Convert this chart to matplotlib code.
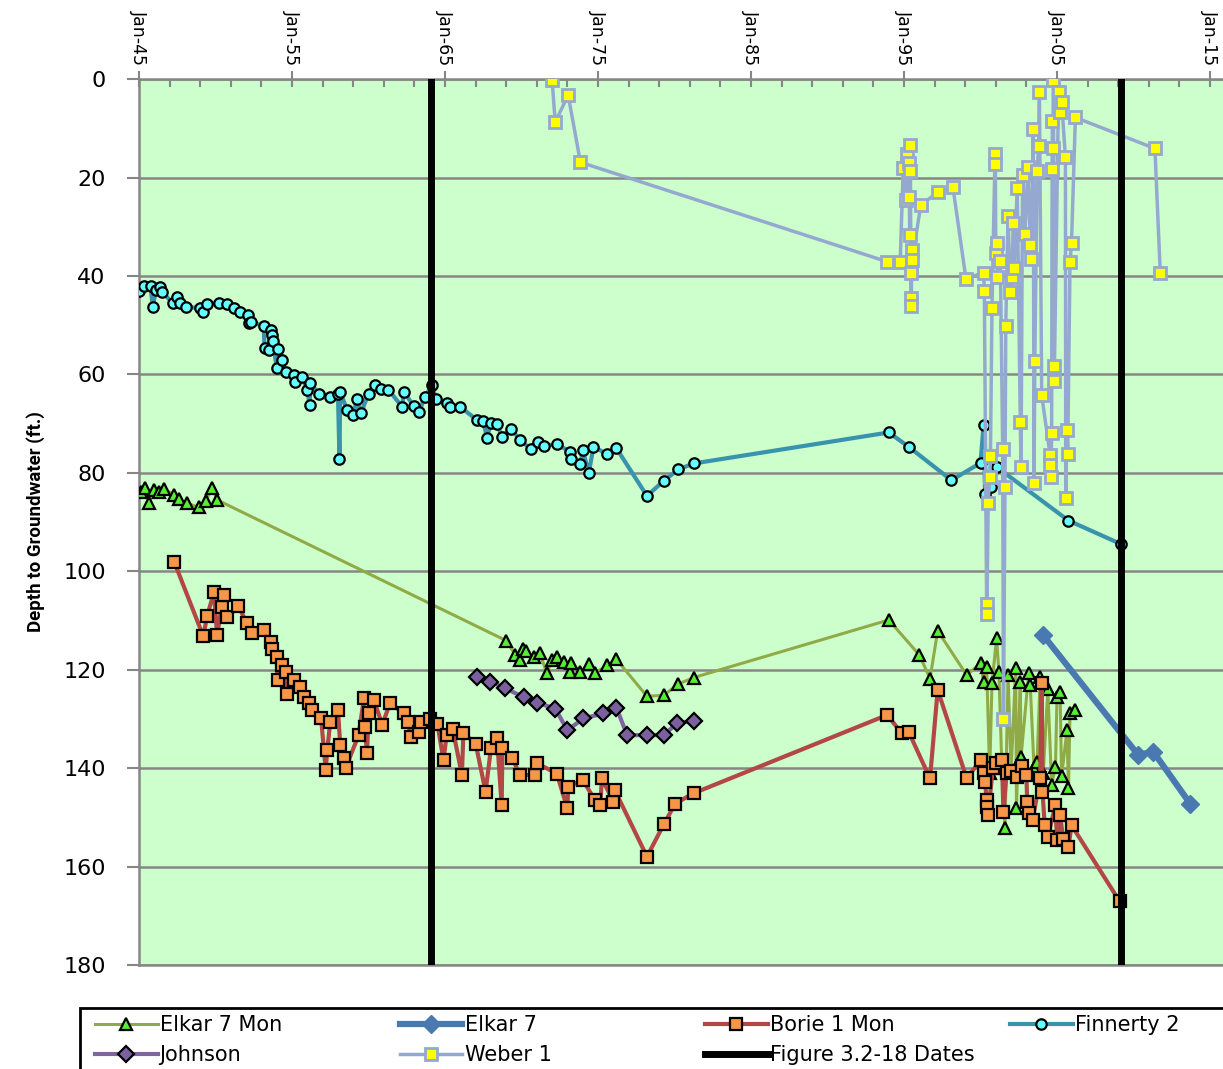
import numpy as np
import matplotlib
matplotlib.use('Agg')
import matplotlib.pyplot as plt
from matplotlib.patches import Rectangle

# ---- data (decimal year, depth to groundwater in ft) ----
finnerty_t = [1945.0, 1945.3, 1945.75, 1945.9, 1946.1, 1946.4, 1946.5, 1947.2, 1947.5, 1947.7,
              1948.1, 1949.0, 1949.2, 1949.45, 1950.2, 1950.75, 1951.2, 1951.6, 1952.1, 1952.2,
              1952.3, 1953.15, 1953.2, 1953.5, 1953.6, 1953.7, 1953.75, 1954.0, 1954.1, 1954.35,
              1954.6, 1955.1, 1955.2, 1955.65, 1956.0, 1956.15, 1956.2, 1956.75, 1957.5, 1958.0,
              1958.1, 1958.15, 1958.6, 1959.0, 1959.25, 1959.5, 1960.0, 1960.45, 1960.8, 1961.3,
              1962.2, 1962.3, 1962.95, 1963.3, 1963.7, 1964.15, 1964.4, 1965.1, 1965.3, 1966.0,
              1967.1, 1967.5, 1967.75, 1968.0, 1968.4, 1968.7, 1969.3, 1969.9, 1970.6, 1971.1,
              1971.5, 1972.3, 1973.2, 1973.25, 1973.85, 1974.0, 1974.4, 1974.7, 1975.6, 1976.2,
              1978.2, 1979.3, 1980.25, 1981.25, 1994.0, 1995.3, 1998.1, 2000.0, 2000.2, 2000.3,
              2000.6, 2000.7, 2001.05, 2005.75, 2009.2]
finnerty_d = [43.0, 42.1, 42.1, 46.4, 42.8, 42.2, 43.2, 45.5, 44.2, 45.4,
              46.3, 46.5, 47.3, 45.7, 45.4, 45.6, 46.6, 47.3, 48.0, 49.6,
              49.3, 50.2, 54.7, 55.1, 50.9, 52.0, 53.2, 58.8, 54.9, 57.1,
              59.5, 60.1, 61.5, 60.5, 63.2, 66.2, 61.8, 63.9, 64.5, 64.0,
              77.1, 63.5, 67.3, 68.3, 64.9, 67.9, 63.9, 62.2, 63.0, 63.1,
              66.6, 63.5, 66.4, 67.6, 64.5, 62.2, 65.0, 65.9, 66.6, 66.6,
              69.3, 69.5, 73.0, 69.8, 70.0, 72.7, 71.0, 73.3, 75.2, 73.7,
              74.5, 74.2, 75.7, 77.1, 78.2, 75.4, 80.0, 74.7, 76.2, 75.0,
              84.7, 81.6, 79.3, 78.1, 71.8, 74.7, 81.5, 78.0, 70.3, 84.2,
              78.8, 82.8, 78.8, 89.7, 94.5]

elkar_mon_t = [1945.1, 1945.4, 1945.65, 1945.95, 1946.3, 1946.6, 1947.3, 1947.6, 1948.15, 1948.9,
               1949.35, 1949.8, 1950.1, 1969.0, 1969.6, 1969.9, 1970.1, 1970.3, 1970.8, 1971.2,
               1971.65, 1972.0, 1972.3, 1972.8, 1973.2, 1973.25, 1973.85, 1974.4, 1974.8, 1975.6,
               1976.2, 1978.2, 1979.3, 1980.25, 1981.25, 1994.0, 1996.0, 1996.7, 1997.2, 1999.1,
               2000.0, 2000.2, 2000.4, 2000.6, 2000.75, 2001.05, 2001.2, 2001.4, 2001.6, 2001.8,
               2002.0, 2002.3, 2002.35, 2002.6, 2002.65, 2003.15, 2003.25, 2003.5, 2003.7, 2003.9,
               2004.1, 2004.4, 2004.65, 2004.9, 2005.0, 2005.2, 2005.3, 2005.65, 2005.75, 2005.85,
               2006.2]
elkar_mon_d = [83.8, 83.0, 86.1, 83.5, 83.8, 83.2, 84.5, 85.4, 86.2, 87.0,
               85.7, 83.0, 85.5, 114.1, 117.0, 118.0, 115.7, 116.3, 117.5, 116.7,
               120.7, 118.0, 117.4, 118.5, 120.4, 118.7, 120.4, 118.9, 120.7, 119.1,
               117.9, 125.4, 125.2, 122.9, 121.6, 109.9, 117.0, 121.8, 112.1, 121.1,
               118.7, 122.4, 119.5, 141.0, 122.8, 113.6, 120.4, 140.0, 152.2, 121.0,
               140.5, 119.7, 148.2, 122.4, 137.7, 120.7, 123.1, 140.0, 138.7, 121.5,
               141.0, 124.0, 143.4, 139.7, 125.5, 124.5, 141.7, 132.3, 144.1, 128.9,
               128.2]

elkar7_t = [2004.1, 2010.3, 2011.3, 2013.7]
elkar7_d = [113.0, 137.3, 136.7, 147.2]

borie_t = [1947.3, 1949.2, 1949.45, 1949.9, 1950.1, 1950.4, 1950.55, 1950.75, 1951.5, 1952.05,
           1952.4, 1953.15, 1953.6, 1953.7, 1954.0, 1954.05, 1954.35, 1954.6, 1954.7, 1955.1,
           1955.55, 1955.75, 1956.1, 1956.3, 1956.9, 1957.2, 1957.3, 1957.5, 1958.0, 1958.15,
           1958.4, 1958.5, 1959.35, 1959.7, 1959.75, 1959.9, 1960.0, 1960.35, 1960.9, 1961.4,
           1962.3, 1962.6, 1962.75, 1963.3, 1963.4, 1964.0, 1964.5, 1964.9, 1965.1, 1965.5,
           1966.1, 1966.2, 1967.0, 1967.65, 1968.0, 1968.4, 1968.7, 1968.75, 1969.4, 1969.9,
           1970.9, 1971.0, 1972.3, 1973.0, 1973.05, 1974.0, 1974.8, 1975.15, 1975.25, 1976.0,
           1976.1, 1978.2, 1979.3, 1980.05, 1981.25, 1993.9, 1994.85, 1995.3, 1996.7, 1997.2,
           1999.1, 2000.0, 2000.2, 2000.3, 2000.4, 2000.45, 2000.5, 2000.8, 2001.0, 2001.4,
           2001.5, 2001.7, 2002.0, 2002.4, 2002.7, 2003.0, 2003.05, 2003.2, 2003.4, 2003.9,
           2004.0, 2004.05, 2004.2, 2004.4, 2004.9, 2005.0, 2005.2, 2005.4, 2005.75, 2005.95,
           2009.1]
borie_d = [98.1, 113.2, 109.1, 104.2, 113.0, 107.2, 104.8, 109.2, 107.1, 110.6,
           112.6, 111.9, 114.3, 115.7, 117.4, 122.1, 119.1, 120.4, 124.9, 122.1,
           123.5, 125.5, 126.7, 128.2, 129.9, 140.4, 136.3, 130.6, 128.2, 135.3,
           138.0, 140.0, 133.3, 125.8, 131.6, 137.0, 128.9, 126.2, 131.2, 126.8,
           128.9, 130.6, 133.6, 132.6, 130.6, 130.0, 131.0, 138.4, 133.3, 132.0,
           141.4, 132.9, 135.0, 144.8, 136.0, 133.9, 147.5, 136.0, 138.0, 141.4,
           141.4, 139.0, 141.1, 148.2, 143.8, 142.4, 146.5, 147.5, 142.1, 146.8,
           144.5, 158.0, 151.4, 147.2, 145.1, 129.2, 132.9, 132.6, 142.1, 124.1,
           142.1, 138.4, 141.0, 142.8, 146.5, 147.8, 149.5, 140.0, 139.0, 138.4,
           148.9, 141.0, 140.5, 141.8, 139.5, 141.4, 146.8, 149.2, 150.6, 142.1,
           122.8, 144.8, 151.6, 153.9, 147.5, 154.6, 149.5, 154.3, 156.0, 151.6,
           167.1]

johnson_t = [1967.1, 1967.95, 1968.95, 1970.15, 1971.0, 1972.2, 1973.0, 1974.05, 1975.35, 1976.2,
             1976.9, 1978.2, 1979.3, 1980.15, 1981.25]
johnson_d = [121.4, 122.4, 123.8, 125.6, 126.7, 127.9, 132.3, 129.9, 128.9, 127.7,
             133.3, 133.3, 133.3, 130.9, 130.4]

weber_t = [1972.0, 1972.2, 1973.05, 1973.85, 1993.9, 1994.75, 1994.95, 1995.1, 1995.2, 1995.3,
           1995.35, 1995.37, 1995.4, 1995.42, 1995.45, 1995.47, 1995.48, 1995.5, 1995.52, 1996.1,
           1997.25, 1998.2, 1999.05, 2000.2, 2000.25, 2000.4, 2000.42, 2000.5, 2000.6, 2000.65,
           2000.75, 2000.95, 2000.97, 2001.0, 2001.05, 2001.1, 2001.3, 2001.45, 2001.5, 2001.6,
           2001.65, 2001.8, 2001.95, 2002.05, 2002.15, 2002.2, 2002.4, 2002.6, 2002.65, 2002.75,
           2002.9, 2003.1, 2003.25, 2003.3, 2003.45, 2003.5, 2003.55, 2003.7, 2003.8, 2003.85,
           2004.0, 2004.55, 2004.57, 2004.6, 2004.65, 2004.68, 2004.7, 2004.75, 2004.77, 2004.8,
           2004.82, 2005.1, 2005.2, 2005.3, 2005.55, 2005.57, 2005.65, 2005.7, 2005.85, 2005.95,
           2006.2, 2011.4, 2011.75]
weber_d = [0.2, 8.7, 3.3, 16.9, 37.1, 37.1, 18.1, 24.6, 15.2, 17.1,
           24.0, 31.6, 13.4, 18.6, 39.4, 44.4, 46.1, 34.7, 36.8, 25.6,
           22.9, 22.0, 40.6, 39.3, 43.0, 106.7, 108.6, 86.1, 80.8, 76.6,
           46.6, 15.2, 17.3, 35.4, 33.4, 40.2, 37.0, 75.2, 130.1, 82.8,
           50.1, 27.8, 43.2, 40.2, 29.2, 38.3, 22.1, 69.6, 78.9, 19.5,
           31.4, 17.9, 33.7, 36.6, 10.2, 82.0, 57.2, 18.6, 13.6, 2.6,
           64.2, 76.4, 78.4, 80.8, 72.0, 18.3, 8.5, 14.1, 0.2, 58.2,
           61.3, 2.6, 6.6, 4.6, 15.8, 85.1, 71.3, 76.2, 37.1, 33.2,
           7.8, 14.1, 39.4]

figure_dates = [1964.1, 2009.2]

tick_years = [1945, 1955, 1965, 1975, 1985, 1995, 2005, 2015]
tick_labels = ['Jan-45', 'Jan-55', 'Jan-65', 'Jan-75', 'Jan-85', 'Jan-95', 'Jan-05', 'Jan-15']

# ---- figure ----
fig = plt.figure(figsize=(12.23, 10.69), dpi=100)
ax = fig.add_axes([0.1137, 0.0973, 1 - 0.1137, 0.926 - 0.0973])
ax.set_facecolor('#CCFFCC')

ax.plot(elkar_mon_t, elkar_mon_d, color='#8FAA46', lw=2.2, marker='^', ms=9,
        mfc='#55EE33', mec='black', mew=1.6, label='Elkar 7 Mon', zorder=3)
ax.plot(elkar7_t, elkar7_d, color='#4A78B0', lw=4.5, marker='D', ms=9,
        mfc='#4A78B0', mec='#4A78B0', label='Elkar 7', zorder=3)
ax.plot(borie_t, borie_d, color='#B24745', lw=3, marker='s', ms=9,
        mfc='#F79646', mec='black', mew=1.6, label='Borie 1 Mon', zorder=3)
ax.plot(finnerty_t, finnerty_d, color='#3A93AD', lw=3, marker='o', ms=7.5,
        mfc='#66FFFF', mec='black', mew=1.6, label='Finnerty 2', zorder=3)
ax.plot(johnson_t, johnson_d, color='#8064A2', lw=3, marker='D', ms=8,
        mfc='#7B60A0', mec='black', mew=1.6, label='Johnson', zorder=3)
ax.plot(weber_t, weber_d, color='#95A9D0', lw=2.5, marker='s', ms=9,
        mfc='#FFFF00', mec='#95A9D0', mew=2, label='Weber 1', zorder=3)
for i, d in enumerate(figure_dates):
    ax.axvline(d, color='black', lw=5, zorder=4,
               label='Figure 3.2-18 Dates' if i == 0 else None)

ax.set_xlim(1945, 2015.85)
ax.set_ylim(180, 0)
ax.set_yticks(np.arange(0, 181, 20))
ax.yaxis.grid(True, color='#868686', lw=1.8)
ax.set_axisbelow(True)

ax.xaxis.tick_top()
ax.set_xticks(tick_years)
ax.set_xticklabels(tick_labels, rotation=270, fontsize=12.5)
ax.set_xticks(np.arange(1947, 2016, 2), minor=True)
ax.tick_params(axis='x', which='major', direction='inout', length=12, width=1.5,
               color='#868686', pad=4)
ax.tick_params(axis='x', which='minor', direction='in', length=6, width=1.5, color='#868686')
ax.tick_params(axis='y', which='major', direction='out', length=9, width=1.5,
               color='#868686', labelsize=16, pad=15)

for side in ['left', 'top', 'bottom']:
    ax.spines[side].set_color('#868686')
    ax.spines[side].set_linewidth(1.8)
ax.spines['right'].set_visible(False)

ax.set_ylabel('Depth to Groundwater (ft.)', fontsize=13.5, fontweight='bold',
              family=['Roboto', 'DejaVu Sans'], labelpad=13)

# legend: four columns placed by hand inside one black box
h, l = ax.get_legend_handles_labels()
columns = [[0, 4], [1, 5], [2, 6], [3]]
col_x = [0.0777, 0.327, 0.5765, 0.826]
for idx, x in zip(columns, col_x):
    lg = fig.legend([h[i] for i in idx], [l[i] for i in idx], loc='upper left',
                    bbox_to_anchor=(x, 0.0505), bbox_transform=fig.transFigure,
                    fontsize=15, frameon=False, handlelength=3.0, handletextpad=0.1,
                    borderpad=0, labelspacing=0.5, borderaxespad=0)
fig.patches.append(Rectangle((0.0654, -0.02), 1.0, 0.077, transform=fig.transFigure,
                             fill=False, edgecolor='black', lw=2, clip_on=False))

fig.savefig('out.png', dpi=100)
